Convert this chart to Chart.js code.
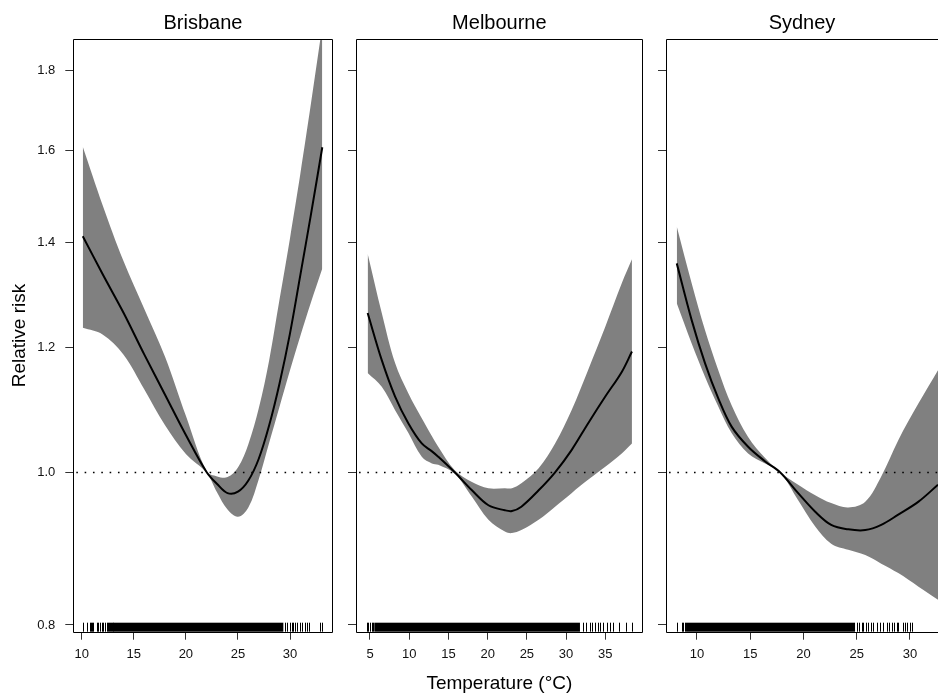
<!DOCTYPE html>
<html lang="en">

<head>
    <meta charset="UTF-8">
    <title>Relative risk by temperature</title>
    <script src="https://cdn.jsdelivr.net/npm/chart.js"></script>
    <style>
        body {
            margin: 0;
            background: #ffffff;
            overflow: hidden;
        }

        .painel {
            position: absolute;
            top: 0;
        }
    </style>
</head>

<body>
    <canvas id="brisbane" class="painel" style="left:0px" width="340" height="693"></canvas>
    <canvas id="melbourne" class="painel" style="left:340px" width="310" height="693"></canvas>
    <canvas id="sydney" class="painel" style="left:650px" width="288" height="693"></canvas>
</body>

</html>

<script>
    // ticks of the (log) relative risk axis
    const yTicks = [0.8, 1.0, 1.2, 1.4, 1.6, 1.8];
    const refRR = 1.0;

    // Brisbane
    const brisTicks = [10, 15, 20, 25, 30];
    const brisTemp = [10.1, 12, 14, 16, 18, 20, 22, 23, 24, 25, 26, 27, 28, 29, 30, 31, 32, 33.1];
    const brisRR = [1.412, 1.336, 1.263, 1.188, 1.120, 1.056, 1.0, 0.983, 0.970, 0.972, 0.988, 1.020, 1.071, 1.139, 1.225, 1.335, 1.456, 1.608];
    const brisUpper = [1.609, 1.478, 1.362, 1.27, 1.184, 1.086, 1.001, 0.994, 0.993, 1.007, 1.042, 1.098, 1.178, 1.288, 1.408, 1.548, 1.712, 1.92];
    const brisLower = [1.235, 1.223, 1.188, 1.129, 1.071, 1.027, 0.999, 0.971, 0.947, 0.937, 0.950, 0.990, 1.044, 1.101, 1.161, 1.221, 1.281, 1.347];
    const brisRug = [10.16, 10.48, 10.8, 10.9, 11.02, 11.12, 11.5, 11.6, 11.76, 11.92, 12.08, 12.24, 12.4, 12.5, 12.59, 12.72, 12.82, 12.91, 12.98,
        29.55, 29.68, 30.0, 30.16, 30.32, 30.48, 30.64, 30.96, 31.12, 31.44, 31.6, 31.82, 32.88, 33.04];
    const brisRugDense = [13.04, 29.36];

    // Melbourne
    const melbTicks = [5, 10, 15, 20, 25, 30, 35];
    const melbTemp = [4.7, 6.5, 8.2, 9.9, 11.6, 12.9, 13.7, 15.8, 18, 20.1, 22.2, 23.1, 24.3, 26.5, 28.6, 30.7, 32.8, 35, 37.1, 38.4];
    const melbRR = [1.262, 1.178, 1.117, 1.074, 1.043, 1.031, 1.023, 1.0, 0.974, 0.953, 0.946, 0.945, 0.951, 0.974, 1.0, 1.033, 1.074, 1.117, 1.158, 1.193];
    const melbUpper = [1.376, 1.262, 1.173, 1.122, 1.082, 1.054, 1.038, 1.003, 0.986, 0.977, 0.977, 0.977, 0.984, 1.006, 1.043, 1.095, 1.161, 1.237, 1.318, 1.365];
    const melbLower = [1.156, 1.133, 1.095, 1.059, 1.023, 1.013, 1.011, 0.998, 0.965, 0.933, 0.917, 0.915, 0.919, 0.933, 0.951, 0.970, 0.989, 1.008, 1.028, 1.043];
    const melbRug = [4.58, 4.79, 5.0, 5.21, 5.42, 32.2, 32.6, 33.05, 33.26, 33.69, 34.1, 34.3, 34.75, 35.2, 35.6, 36.0, 36.8, 37.6, 38.4];
    const melbRugDense = [5.55, 31.77];

    // Sydney
    const sydTicks = [10, 15, 20, 25, 30];
    const sydTemp = [8.1, 9.5, 10.75, 12, 13.25, 14.8, 16.4, 17.8, 19.5, 21.1, 22.6, 24.2, 25.8, 27.3, 28.9, 30.8, 32.63];
    const sydRR = [1.357, 1.249, 1.173, 1.114, 1.069, 1.038, 1.016, 1.0, 0.970, 0.944, 0.926, 0.920, 0.919, 0.926, 0.940, 0.958, 0.982];
    const sydUpper = [1.432, 1.318, 1.231, 1.161, 1.103, 1.053, 1.021, 1.0, 0.982, 0.967, 0.956, 0.950, 0.958, 0.994, 1.048, 1.106, 1.161];
    const sydLower = [1.280, 1.207, 1.150, 1.101, 1.059, 1.028, 1.013, 1.0, 0.960, 0.924, 0.901, 0.893, 0.886, 0.875, 0.863, 0.846, 0.830];
    const sydRug = [8.09, 8.56, 8.72, 8.87, 25.0, 25.24, 25.46, 25.62, 25.87, 26.09, 26.31, 26.56, 26.87, 27.19, 27.5, 27.81, 28.06,
        28.28, 28.53, 28.75, 28.9, 29.31, 29.53, 29.69, 30.0, 30.16];
    const sydRugDense = [8.97, 24.84];

    const fonte = "'Liberation Sans', Arial, sans-serif";

    function pontos(xs, ys) {
        return xs.map(function (x, i) { return { x: x, y: ys[i] }; });
    }

    // box around the plot region (R style)
    const caixaPlugin = {
        id: "caixa",
        afterDraw: function (chart, args, opts) {
            const a = chart.chartArea;
            const ctx = chart.ctx;
            const l = Math.round(a.left) + 0.5, t = Math.round(a.top) + 0.5;
            const r = Math.round(a.right) - 0.5, b = Math.round(a.bottom) + 0.5;
            ctx.save();
            ctx.strokeStyle = "#000";
            ctx.lineWidth = 1;
            ctx.beginPath();
            if (opts.semDireita) {
                ctx.moveTo(a.right + 1, t);
                ctx.lineTo(l, t);
                ctx.lineTo(l, b);
                ctx.lineTo(a.right + 1, b);
            } else {
                ctx.rect(l, t, r - l, b - t);
            }
            ctx.stroke();
            ctx.restore();
        }
    };

    // dotted reference line at RR = 1
    const referenciaPlugin = {
        id: "referencia",
        afterDatasetsDraw: function (chart) {
            const a = chart.chartArea;
            const y = Math.round(chart.scales.y.getPixelForValue(refRR)) + 0.5;
            const ctx = chart.ctx;
            ctx.save();
            ctx.strokeStyle = "#000";
            ctx.lineWidth = 1.3;
            ctx.setLineDash([1.6, 6.73]);
            ctx.beginPath();
            ctx.moveTo(a.left + 3, y);
            ctx.lineTo(a.right, y);
            ctx.stroke();
            ctx.restore();
        }
    };

    // rug of observed temperatures along the bottom
    const rugPlugin = {
        id: "rug",
        afterDatasetsDraw: function (chart, args, opts) {
            const xs = chart.scales.x;
            const b = chart.chartArea.bottom;
            const h = 9;
            const ctx = chart.ctx;
            ctx.save();
            ctx.strokeStyle = "#000";
            ctx.fillStyle = "#000";
            ctx.lineWidth = 1;
            ctx.beginPath();
            opts.valores.forEach(function (t) {
                const x = Math.round(xs.getPixelForValue(t)) + 0.5;
                ctx.moveTo(x, b - h);
                ctx.lineTo(x, b);
            });
            ctx.stroke();
            const x1 = xs.getPixelForValue(opts.denso[0]);
            const x2 = xs.getPixelForValue(opts.denso[1]);
            ctx.fillRect(x1, b - h, x2 - x1, h);
            ctx.restore();
        }
    };

    function criarPainel(id, cfg) {
        const config = {
            type: "line",
            data: {
                datasets: [
                    {
                        label: "RR",
                        data: pontos(cfg.temp, cfg.rr),
                        borderColor: "#000",
                        borderWidth: 2,
                        pointRadius: 0,
                        fill: false,
                        tension: 0.35
                    },
                    {
                        label: "upper",
                        data: pontos(cfg.temp, cfg.upper),
                        borderWidth: 0,
                        borderColor: "rgba(0,0,0,0)",
                        backgroundColor: "#808080",
                        pointRadius: 0,
                        fill: "+1",
                        tension: 0.35
                    },
                    {
                        label: "lower",
                        data: pontos(cfg.temp, cfg.lower),
                        borderWidth: 0,
                        borderColor: "rgba(0,0,0,0)",
                        pointRadius: 0,
                        fill: false,
                        tension: 0.35
                    }
                ]
            },
            options: {
                responsive: false,
                animation: false,
                layout: { padding: { left: 0, right: cfg.padDireita, top: 0, bottom: 0 } },
                scales: {
                    x: {
                        type: "linear",
                        min: cfg.xmin,
                        max: cfg.xmax,
                        afterBuildTicks: function (s) {
                            s.ticks = cfg.xticks.map(function (v) { return { value: v }; });
                        },
                        afterFit: function (s) { s.height = 61.3; },
                        grid: {
                            display: true,
                            drawOnChartArea: false,
                            drawTicks: true,
                            tickLength: 8,
                            color: "#333"
                        },
                        border: { display: false },
                        ticks: {
                            color: "#111",
                            padding: 7,
                            maxRotation: 0,
                            font: { family: fonte, size: 13 }
                        },
                        title: {
                            display: cfg.xtitulo !== "",
                            text: cfg.xtitulo,
                            color: "#000",
                            padding: { top: 0, bottom: 0 },
                            font: { family: fonte, size: 19, lineHeight: 1 }
                        }
                    },
                    y: {
                        type: "logarithmic",
                        min: 0.7922,
                        max: 1.8827,
                        afterBuildTicks: function (s) {
                            s.ticks = yTicks.map(function (v) { return { value: v }; });
                        },
                        afterFit: function (s) { s.width = cfg.larguraY; },
                        grid: {
                            display: true,
                            drawOnChartArea: false,
                            drawTicks: true,
                            tickLength: 8,
                            color: "#333"
                        },
                        border: { display: false },
                        ticks: {
                            display: cfg.ytitulo !== "",
                            color: "#111",
                            padding: 10,
                            font: { family: fonte, size: 13 },
                            callback: function (v) { return Number(v).toFixed(1); }
                        },
                        title: {
                            display: cfg.ytitulo !== "",
                            text: cfg.ytitulo,
                            color: "#000",
                            padding: { top: 10, bottom: 0 },
                            font: { family: fonte, size: 19, lineHeight: 1 }
                        }
                    }
                },
                plugins: {
                    legend: { display: false },
                    tooltip: { enabled: false },
                    title: {
                        display: true,
                        text: cfg.titulo,
                        fullSize: false,
                        color: "#000",
                        font: { family: fonte, size: 20, weight: "normal", lineHeight: 1.2 },
                        padding: { top: 11, bottom: 4.3 }
                    },
                    caixa: { semDireita: cfg.semDireita },
                    rug: { valores: cfg.rug, denso: cfg.rugDenso }
                }
            },
            plugins: [caixaPlugin, referenciaPlugin, rugPlugin]
        };
        return new Chart(document.getElementById(id), config);
    }

    criarPainel("brisbane", {
        titulo: "Brisbane", xtitulo: "", ytitulo: "Relative risk",
        temp: brisTemp, rr: brisRR, upper: brisUpper, lower: brisLower,
        rug: brisRug, rugDenso: brisRugDense, xticks: brisTicks,
        xmin: 9.19, xmax: 34.1, larguraY: 73.3, padDireita: 7.3, semDireita: false
    });

    criarPainel("melbourne", {
        titulo: "Melbourne", xtitulo: "Temperature (\u00B0C)", ytitulo: "",
        temp: melbTemp, rr: melbRR, upper: melbUpper, lower: melbLower,
        rug: melbRug, rugDenso: melbRugDense, xticks: melbTicks,
        xmin: 3.215, xmax: 39.77, larguraY: 16, padDireita: 7.3, semDireita: false
    });

    criarPainel("sydney", {
        titulo: "Sydney", xtitulo: "", ytitulo: "",
        temp: sydTemp, rr: sydRR, upper: sydUpper, lower: sydLower,
        rug: sydRug, rugDenso: sydRugDense, xticks: sydTicks,
        xmin: 7.09, xmax: 32.63, larguraY: 16, padDireita: 0, semDireita: true
    });
</script>
